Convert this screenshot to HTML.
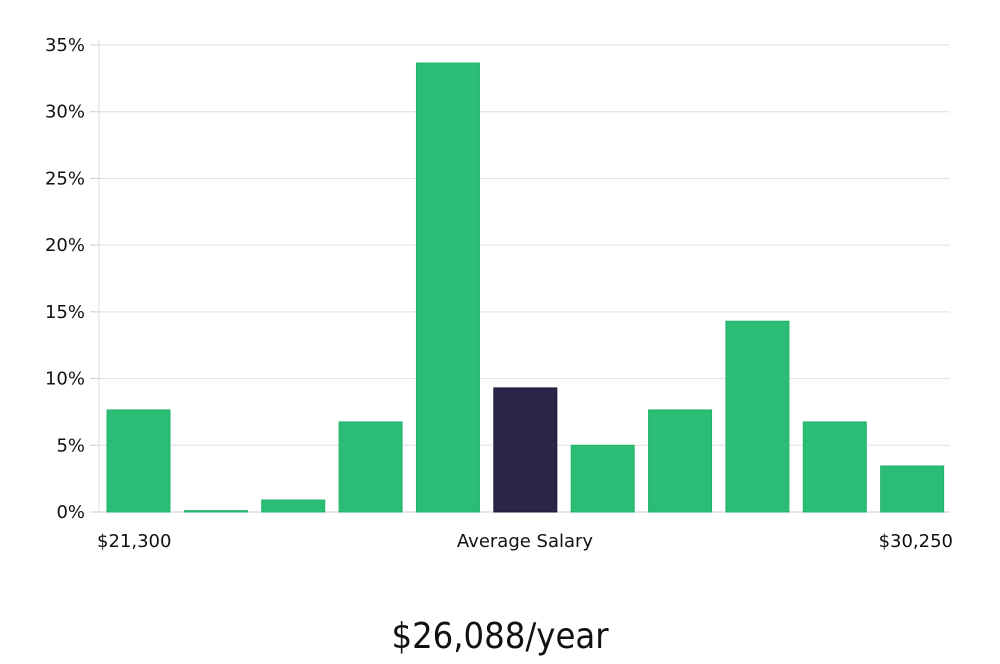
<!DOCTYPE html>
<html><head><meta charset="utf-8"><style>
body{margin:0;background:#fff;width:1000px;height:660px;overflow:hidden;font-family:"DejaVu Sans","Liberation Sans",sans-serif}
</style></head><body>
<svg width="1000" height="660" id="c">
<text x="500" y="648" text-anchor="middle" font-family="'DejaVu Sans Condensed','Liberation Sans Narrow',sans-serif" font-size="36" fill="#111">$26,088/year</text>
</svg>
<script>
const categories=["b1","b2","b3","b4","b5","b6","b7","b8","b9","b10","b11"];
const values=[7.65,0.1,0.9,6.75,33.65,9.3,5.0,7.65,14.3,6.75,3.45];
const highlight=[false,false,false,false,false,true,false,false,false,false,false];
const yTicks=[0,5,10,15,20,25,30,35];
const xLabels=["$21,300","Average Salary","$30,250"];
const svg=document.getElementById('c');const NS='http://www.w3.org/2000/svg';
const X0=99,X1=950,Y0=512,Y35=45;
const y=v=>Y0-(v/35)*(Y0-Y35);
const band=(X1-X0)/categories.length;
const x=i=>X0+i*band+8;
function mk(t,a){const e=document.createElementNS(NS,t);for(const k in a)e.setAttribute(k,a[k]);svg.appendChild(e);return e;}
yTicks.forEach(t=>{
 const g=mk('line',{x1:X0,x2:X1,y1:y(t),y2:y(t),stroke:t===0?'#ccc':'#e0e0e0','stroke-width':1});
 
 
 const tk=mk('line',{x1:90,x2:X0,y1:y(t),y2:y(t),stroke:'#ccc'});
 
 
 const tx=mk('text',{x:85,y:y(t)+6,'text-anchor':'end','font-size':18,fill:'#111'});
 tx.textContent=t+'%';
 
 
});
const ax=mk('line',{x1:X0,x2:X0,y1:40,y2:Y0,stroke:'#ddd'});


values.forEach((v,i)=>{
 const h=Math.max(Y0-y(v),1);
 const r=mk('rect',{x:x(i),y:Y0-h,width:63,height:h,fill:highlight[i]?'#29264a':'#2bbd75',stroke:highlight[i]?'#1a1838':'#22b36b','stroke-width':1});
 
 
});
[[97,'start'],[525,'middle'],[953,'end']].forEach((p,i)=>{
 const t=mk('text',{x:p[0],y:547,'text-anchor':p[1],'font-size':18,fill:'#111'});
 t.textContent=xLabels[i];
 
 
});
</script>
</body></html>
